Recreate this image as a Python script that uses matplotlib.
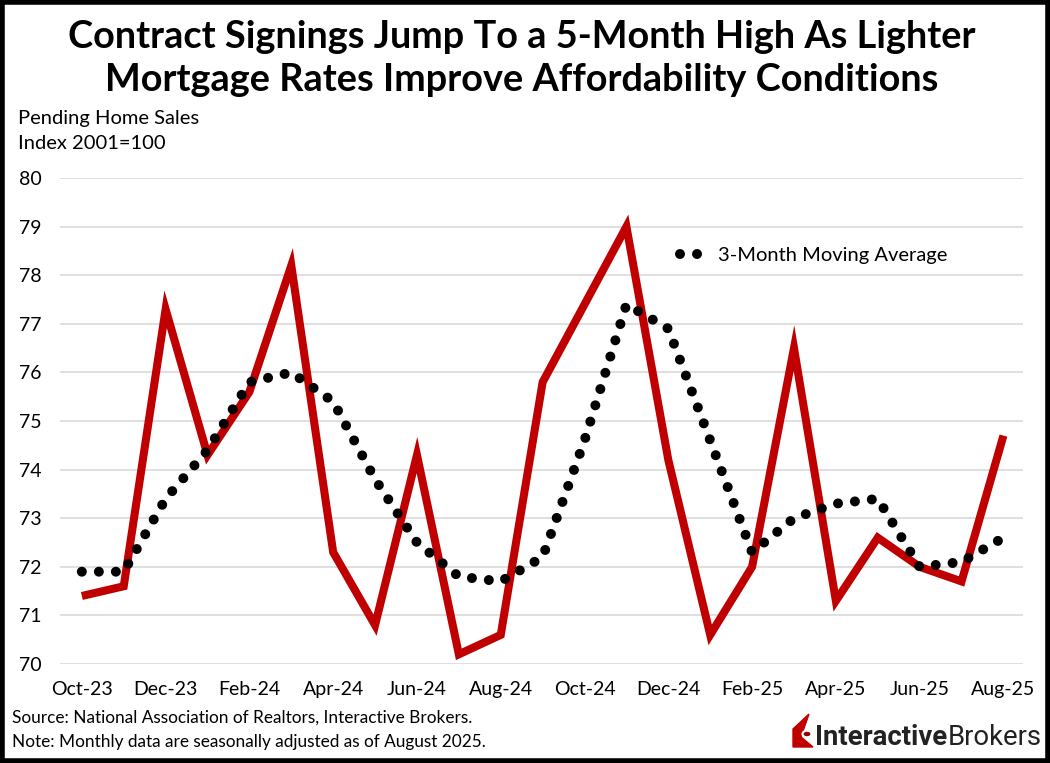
import matplotlib.pyplot as plt
from matplotlib.lines import Line2D
from matplotlib.patches import Rectangle, Polygon, Circle

# Datos
meses = ['Oct-23', 'Nov-23', 'Dec-23', 'Jan-24', 'Feb-24', 'Mar-24', 'Apr-24', 'May-24',
         'Jun-24', 'Jul-24', 'Aug-24', 'Sep-24', 'Oct-24', 'Nov-24', 'Dec-24', 'Jan-25',
         'Feb-25', 'Mar-25', 'Apr-25', 'May-25', 'Jun-25', 'Jul-25', 'Aug-25']
pendientes = [71.4, 71.6, 77.3, 74.3, 75.6, 78.2, 72.3, 70.8, 74.3, 70.2, 70.6, 75.8,
              77.4, 79.0, 74.2, 70.6, 72.0, 76.5, 71.3, 72.6, 72.0, 71.7, 74.7]
media_3m = [71.9, 71.9, 73.4, 74.4, 75.8, 76.0, 75.4, 73.8, 72.5, 71.8, 71.7, 72.2,
            74.6, 77.4, 76.9, 74.6, 72.3, 73.0, 73.3, 73.4, 72.0, 72.1, 72.6]

FONT = 'Lato'
ROJO = '#C00000'
PUNTOS = (0, (0.001, 1.7))

fig = plt.figure(figsize=(10.5, 7.63), dpi=100)
ax = fig.add_axes([0.057, 0.1297, 0.917, 0.637])

x = list(range(len(meses)))
ax.plot(x, pendientes, color=ROJO, linewidth=5.8, solid_joinstyle='miter',
        solid_capstyle='butt', zorder=3)
ax.plot(x, media_3m, color='black', linewidth=7.2, linestyle=PUNTOS,
        dash_capstyle='round', zorder=4)

ax.set_ylim(70, 80)
ax.set_xlim(-0.525, 22.46)
ax.set_yticks(range(70, 81))
ax.set_xticks(x[::2])
ax.set_xticklabels(meses[::2])
ax.grid(True, axis='y', color='#d9d9d9', linewidth=1.2)
ax.set_axisbelow(True)
for s in ax.spines.values():
    s.set_visible(False)
ax.tick_params(length=0, labelsize=14, pad=12)
ax.tick_params(axis='y', pad=13)
for lab in ax.get_xticklabels() + ax.get_yticklabels():
    lab.set_fontfamily(FONT)

# Leyenda
leg_h = Line2D([0], [0], color='black', linewidth=7.2, linestyle=PUNTOS,
               dash_capstyle='round')
ax.legend([leg_h], ['3-Month Moving Average'], loc='upper left',
          bbox_to_anchor=(0.625, 0.895), frameon=False,
          prop={'family': FONT, 'size': 14.5}, handlelength=1.3, handletextpad=0.6)

# Titulo
fig.text(0.497, 0.952, 'Contract Signings Jump To a 5-Month High As Lighter',
         ha='center', va='center', fontsize=27.3, fontweight='bold', family=FONT)
fig.text(0.497, 0.895, 'Mortgage Rates Improve Affordability Conditions',
         ha='center', va='center', fontsize=27.3, fontweight='bold', family=FONT)

fig.text(0.017, 0.845, 'Pending Home Sales', fontsize=14.5, family=FONT, va='center')
fig.text(0.017, 0.812, 'Index 2001=100', fontsize=14.5, family=FONT, va='center')

fig.text(0.011, 0.059, 'Source: National Association of Realtors, Interactive Brokers.',
         fontsize=12.4, family=FONT, va='center')
fig.text(0.011, 0.027, 'Note: Monthly data are seasonally adjusted as of August 2025.',
         fontsize=12.4, family=FONT, va='center')

# Logo
W, H = 1050.0, 763.0
icono = [(793, 747), (793, 729), (809, 714), (801, 737), (813, 747)]
fig.patches.append(Polygon([(px / W, 1 - py / H) for px, py in icono], closed=True,
                           transform=fig.transFigure, color=ROJO))
fig.patches.append(Circle((807 / W, 1 - 734 / H), 4.5 / W, transform=fig.transFigure,
                          facecolor='#8b0000', edgecolor='white', linewidth=1.5))
t1 = fig.text(815 / W, 0.034, 'Interactive', fontsize=19.8, fontweight='bold',
              family='Roboto', color='#222222', va='center')
fig.canvas.draw()
bb = t1.get_window_extent().transformed(fig.transFigure.inverted())
fig.text(bb.x1, 0.034, 'Brokers', fontsize=19.8, family='Roboto', color='#222222',
         va='center')

# Marco
fig.patches.append(Rectangle((0.002, 0.003), 0.996, 0.994, transform=fig.transFigure,
                             fill=False, edgecolor='black', linewidth=4))

fig.savefig('out.png', dpi=100)
